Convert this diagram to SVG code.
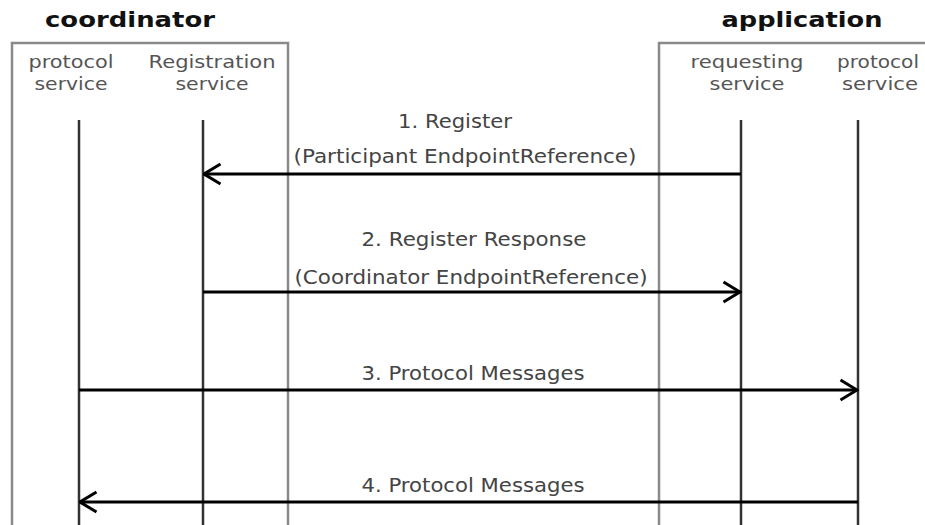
<svg xmlns="http://www.w3.org/2000/svg" width="925" height="525" viewBox="0 0 925 525">
<style>
.title{font-family:"DejaVu Sans",Verdana,sans-serif;font-weight:bold;font-size:22px;fill:#111;text-anchor:middle}
.sub{font-family:"DejaVu Sans",Verdana,sans-serif;font-size:18px;fill:#555;text-anchor:middle}
.lbl{font-family:"DejaVu Sans",Verdana,sans-serif;font-size:19px;fill:#444;text-anchor:middle}
.box{fill:none;stroke:#8a8a8a;stroke-width:2.5}
.life{stroke:#333;stroke-width:2.5}
.msg{stroke:#000;stroke-width:3;fill:none}
</style>
<defs>
<marker id="arr" viewBox="0 0 20 24" refX="18.5" refY="12" markerWidth="20" markerHeight="24" markerUnits="userSpaceOnUse" orient="auto">
<path d="M2,2 L18.5,12 L2,22" fill="none" stroke="#000" stroke-width="3"/>
</marker>
</defs>
<rect width="925" height="525" fill="#fff"/>
<g id="coordinator">
<text class="title" x="130" y="27" textLength="170" lengthAdjust="spacingAndGlyphs">coordinator</text>
<path class="box" d="M12,530 V43 H288 V530"/>
</g>
<g id="application">
<text class="title" x="802" y="27" textLength="161" lengthAdjust="spacingAndGlyphs">application</text>
<path class="box" d="M659,530 V43 H930"/>
</g>
<g id="coord-protocol">
<text class="sub" x="71" y="68" textLength="85" lengthAdjust="spacingAndGlyphs">protocol</text>
<text class="sub" x="71" y="90" textLength="73" lengthAdjust="spacingAndGlyphs">service</text>
<line class="life" x1="79" y1="120" x2="79" y2="530"/>
</g>
<g id="coord-registration">
<text class="sub" x="212" y="68" textLength="127" lengthAdjust="spacingAndGlyphs">Registration</text>
<text class="sub" x="212" y="90" textLength="73" lengthAdjust="spacingAndGlyphs">service</text>
<line class="life" x1="203" y1="120" x2="203" y2="530"/>
</g>
<g id="app-requesting">
<text class="sub" x="747" y="68" textLength="113" lengthAdjust="spacingAndGlyphs">requesting</text>
<text class="sub" x="747" y="90" textLength="75" lengthAdjust="spacingAndGlyphs">service</text>
<line class="life" x1="741" y1="120" x2="741" y2="530"/>
</g>
<g id="app-protocol">
<text class="sub" x="878" y="68" textLength="82" lengthAdjust="spacingAndGlyphs">protocol</text>
<text class="sub" x="880" y="90" textLength="76" lengthAdjust="spacingAndGlyphs">service</text>
<line class="life" x1="858" y1="120" x2="858" y2="530"/>
</g>
<g id="connectors">
<line class="msg" x1="741" y1="174" x2="204" y2="174" marker-end="url(#arr)"/>
<line class="msg" x1="203" y1="292" x2="740" y2="292" marker-end="url(#arr)"/>
<line class="msg" x1="79" y1="390" x2="857" y2="390" marker-end="url(#arr)"/>
<line class="msg" x1="858" y1="502" x2="80" y2="502" marker-end="url(#arr)"/>
<text class="lbl" x="455" y="128" textLength="114" lengthAdjust="spacingAndGlyphs">1. Register</text>
<text class="lbl" x="465" y="163" textLength="343" lengthAdjust="spacingAndGlyphs">(Participant EndpointReference)</text>
<text class="lbl" x="474" y="246" textLength="225" lengthAdjust="spacingAndGlyphs">2. Register Response</text>
<text class="lbl" x="471" y="284" textLength="353" lengthAdjust="spacingAndGlyphs">(Coordinator EndpointReference)</text>
<text class="lbl" x="473" y="380" textLength="223" lengthAdjust="spacingAndGlyphs">3. Protocol Messages</text>
<text class="lbl" x="473" y="492" textLength="223" lengthAdjust="spacingAndGlyphs">4. Protocol Messages</text>
</g>
</svg>
